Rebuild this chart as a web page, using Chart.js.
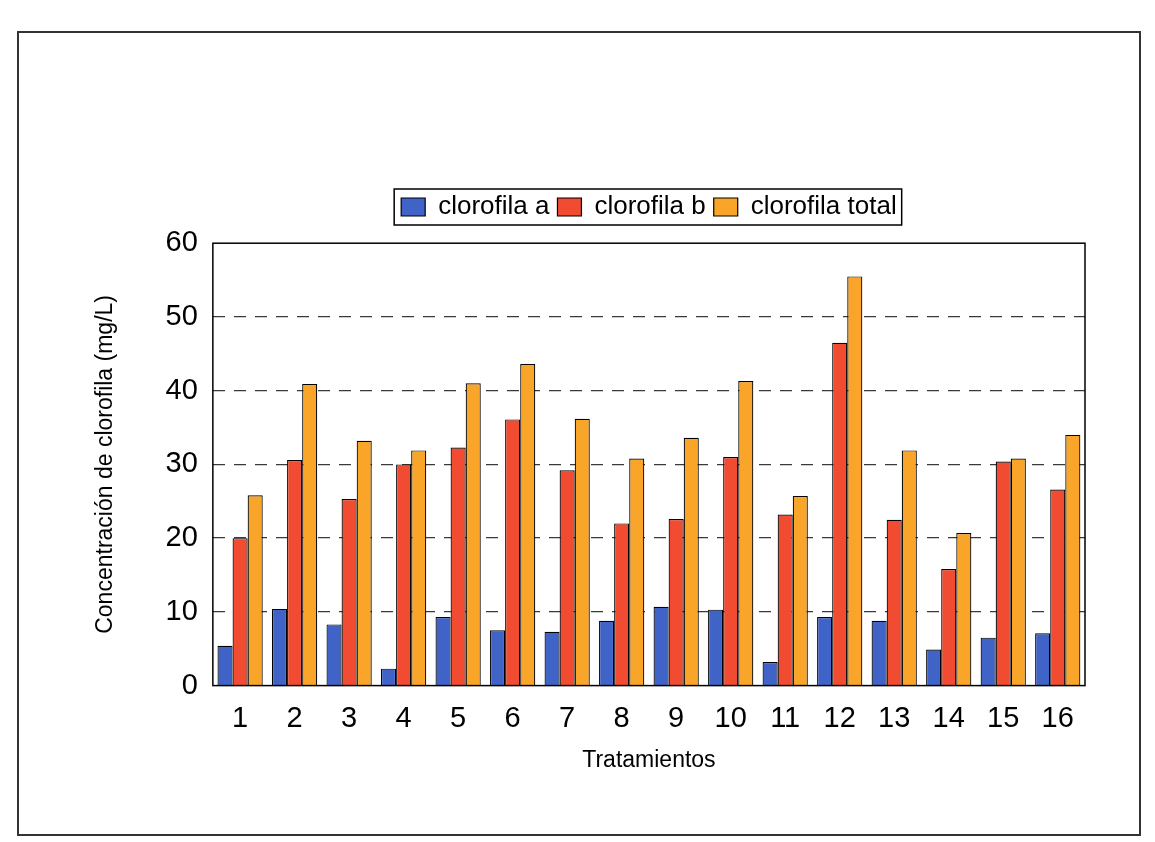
<!DOCTYPE html>
<html>
<head>
<meta charset="utf-8">
<script src="https://cdn.jsdelivr.net/npm/chart.js@4"></script>
<style>
  body { margin: 0; background: #ffffff; }
  #wrap { width: 1155px; height: 842px; }
</style>
</head>
<body>
<div id="wrap"><canvas id="chart" width="1155" height="842"></canvas></div>
<script>
// data
var tratamientos = ['1', '2', '3', '4', '5', '6', '7', '8', '9', '10', '11', '12', '13', '14', '15', '16'];
var clorofila_a = [5.4, 10.4, 8.3, 2.3, 9.3, 7.5, 7.3, 8.8, 10.7, 10.3, 3.2, 9.3, 8.8, 4.9, 6.5, 7.1];
var clorofila_b = [20.0, 30.6, 25.3, 30.0, 32.3, 36.1, 29.2, 22.0, 22.6, 31.0, 23.2, 46.5, 22.5, 15.8, 30.4, 26.6];
var clorofila_total = [25.8, 40.9, 33.2, 31.9, 41.0, 43.6, 36.2, 30.8, 33.6, 41.3, 25.7, 55.5, 31.9, 20.7, 30.8, 34.0];
var y_ticks = [0, 10, 20, 30, 40, 50, 60];

var font_family = '"Liberation Sans", Arial, sans-serif';

// page frame, plot box and the box round the legend
var frame_plugin = {
    id: 'frame',
    beforeDraw: function(chart) {
        var ctx = chart.ctx;
        ctx.save();
        ctx.fillStyle = '#ffffff';
        ctx.fillRect(0, 0, chart.width, chart.height);
        ctx.strokeStyle = '#333333';
        ctx.lineWidth = 2;
        ctx.strokeRect(18, 32, 1122, 803);
        ctx.restore();
    },
    afterDraw: function(chart) {
        var ctx = chart.ctx;
        var a = chart.chartArea;
        ctx.save();
        ctx.strokeStyle = '#000000';
        ctx.lineWidth = 1.5;
        ctx.strokeRect(a.left, a.top, a.right - a.left, a.bottom - a.top);
        var boxes = chart.legend.legendHitBoxes;
        if (boxes && boxes.length) {
            var first = boxes[0];
            var last = boxes[boxes.length - 1];
            ctx.strokeRect(first.left - 7, first.top - 5, last.left + last.width - first.left + 12, first.height + 10);
        }
        ctx.restore();
    }
};

new Chart(document.getElementById('chart'), {
    type: 'bar',
    data: {
        labels: tratamientos,
        datasets: [
            {
                label: 'clorofila a',
                data: clorofila_a,
                backgroundColor: '#3f63c6',
                borderColor: '#000000',
                borderWidth: 1.2
            },
            {
                label: 'clorofila b',
                data: clorofila_b,
                backgroundColor: '#f14b31',
                borderColor: '#000000',
                borderWidth: 1.2
            },
            {
                label: 'clorofila total',
                data: clorofila_total,
                backgroundColor: '#f8a52a',
                borderColor: '#000000',
                borderWidth: 1.2
            }
        ]
    },
    options: {
        responsive: false,
        animation: false,
        layout: {
            padding: { left: 92, right: 70, top: 186, bottom: 64 }
        },
        categoryPercentage: 0.83,
        barPercentage: 1.0,
        plugins: {
            legend: {
                position: 'top',
                fullSize: false,
                labels: {
                    color: '#000000',
                    font: { family: font_family, size: 26 },
                    boxWidth: 24,
                    boxHeight: 18,
                    padding: 8
                }
            },
            // empty spacer between legend and plot
            subtitle: {
                display: true,
                text: '',
                weight: 500,
                font: { size: 1 },
                padding: { top: 0, bottom: 12 }
            },
            tooltip: { enabled: false }
        },
        scales: {
            x: {
                grid: { display: false },
                border: { display: false },
                ticks: {
                    color: '#000000',
                    font: { family: font_family, size: 29 },
                    padding: 8
                },
                title: {
                    display: true,
                    text: 'Tratamientos',
                    color: '#000000',
                    font: { family: font_family, size: 23 },
                    padding: { top: 2 }
                }
            },
            y: {
                min: 0,
                max: 60,
                afterBuildTicks: function(axis) {
                    axis.ticks = y_ticks.map(function(v) { return { value: v }; });
                },
                grid: {
                    color: function(ctx) {
                        return ctx.tick && ctx.tick.value > 0 && ctx.tick.value < 60 ? '#3a3a3a' : 'rgba(0,0,0,0)';
                    },
                    lineWidth: 1.3,
                    drawTicks: false
                },
                border: { display: false, dash: [12, 9] },
                ticks: {
                    color: '#000000',
                    font: { family: font_family, size: 29 },
                    padding: 15
                },
                title: {
                    display: true,
                    text: 'Concentración de clorofila (mg/L)',
                    color: '#000000',
                    font: { family: font_family, size: 23 },
                    padding: { top: 0, bottom: 31 }
                }
            }
        }
    },
    plugins: [frame_plugin]
});
</script>
</body>
</html>
